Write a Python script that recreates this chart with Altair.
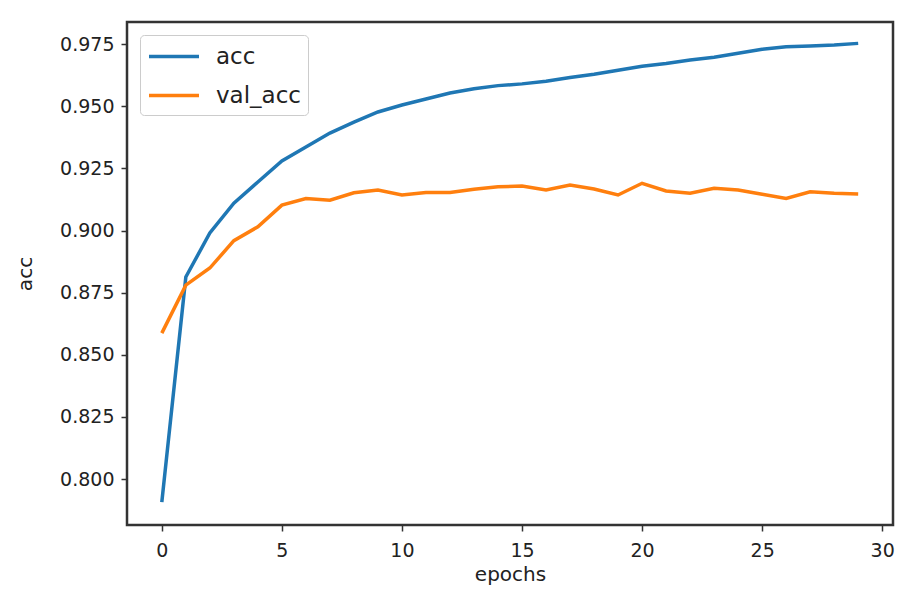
import altair as alt
import pandas as pd

epochs = list(range(30))
acc = [0.7907, 0.8813, 0.8990, 0.9110, 0.9195, 0.9280, 0.9336, 0.9392, 0.9436, 0.9477,
       0.9505, 0.9529, 0.9553, 0.9570, 0.9583, 0.9590, 0.9601, 0.9616, 0.9629, 0.9645,
       0.9661, 0.9672, 0.9686, 0.9697, 0.9713, 0.9729, 0.9739, 0.9742, 0.9746, 0.9753]
val_acc = [0.8587, 0.8780, 0.8849, 0.8959, 0.9015, 0.9102, 0.9129, 0.9122, 0.9152, 0.9163,
           0.9143, 0.9153, 0.9153, 0.9166, 0.9176, 0.9179, 0.9163, 0.9183, 0.9167, 0.9143,
           0.9190, 0.9159, 0.9150, 0.9170, 0.9163, 0.9146, 0.9129, 0.9156, 0.9150, 0.9147]
series_names = ["acc", "val_acc"]
series_colors = ["#1f77b4", "#ff7f0e"]
x_ticks = [0, 5, 10, 15, 20, 25, 30]
y_ticks = [0.800, 0.825, 0.850, 0.875, 0.900, 0.925, 0.950, 0.975]

rows = []
for e, a, v in zip(epochs, acc, val_acc):
    rows.append({"epochs": e, "acc": a, "series": "acc"})
    rows.append({"epochs": e, "acc": v, "series": "val_acc"})
df = pd.DataFrame(rows)

FONT = "DejaVu Sans"

chart = alt.Chart(df).mark_line(strokeWidth=3.5).encode(
    x=alt.X("epochs:Q",
            scale=alt.Scale(domain=[-1.45, 30.45], nice=False, zero=False),
            axis=alt.Axis(values=x_ticks, title="epochs", format="d")),
    y=alt.Y("acc:Q",
            scale=alt.Scale(domain=[0.7815, 0.9839], nice=False, zero=False),
            axis=alt.Axis(values=y_ticks, title="acc", format=".3f")),
    color=alt.Color("series:N",
                    scale=alt.Scale(domain=series_names, range=series_colors),
                    legend=alt.Legend(title=None, orient="none", legendX=13, legendY=13,
                                      symbolType="M-1,0H3", symbolSize=625,
                                      symbolStrokeWidth=3.5, labelFontSize=23,
                                      labelFont=FONT, labelColor="#222",
                                      fillColor="white", strokeColor="#cccccc",
                                      cornerRadius=4, padding=7, labelOffset=40,
                                      rowPadding=12)),
    order="epochs:Q",
).properties(
    width=766, height=503,
    autosize=alt.AutoSizeParams(type="none"),
    padding={"left": 119, "top": 14, "right": 2, "bottom": 62},
    background="white",
).configure_view(
    stroke="#333333", strokeWidth=2.5
).configure_axis(
    grid=False, domain=False,
    tickColor="#333333", tickSize=6, tickWidth=1.5,
    labelFont=FONT, labelFontSize=19, labelColor="#222",
    titleFont=FONT, titleFontSize=20, titleFontWeight="normal", titleColor="#222",
).configure_axisX(
    labelPadding=10, titlePadding=4
).configure_axisY(
    labelPadding=7, titlePadding=24
)

chart.save("out.html", embed_options={"renderer": "svg", "actions": False})
